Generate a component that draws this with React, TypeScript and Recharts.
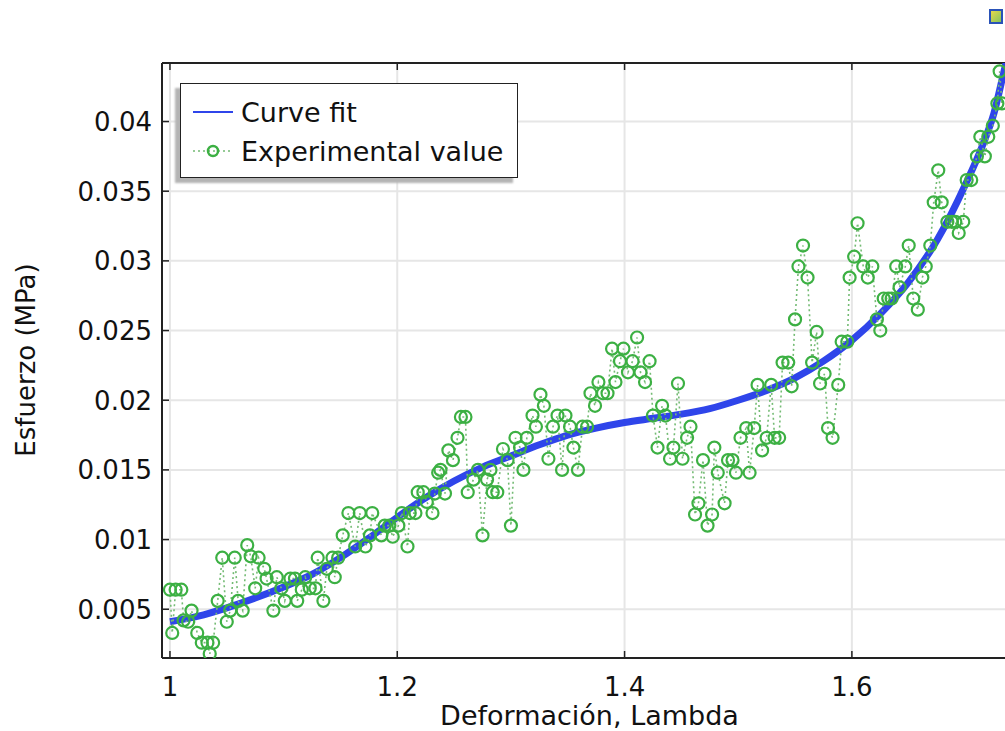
import React from "react";
import { ComposedChart, Line, XAxis, YAxis, CartesianGrid, ReferenceLine } from "recharts";

const FONT = "'DejaVu Sans', Verdana, sans-serif";
const FIT_COLOR = "#2f45ea";
const EXP_COLOR = "#3cb043";
const EXP_LINE = "#74bb74";
const FRAME = "#222";

const xTicks = [1, 1.2, 1.4, 1.6];
const yTicks = [0.005, 0.01, 0.015, 0.02, 0.025, 0.03, 0.035, 0.04];
const X_DOMAIN: [number, number] = [0.993, 1.74];
const Y_DOMAIN: [number, number] = [0.0015, 0.0442];

// fitted hyperelastic curve
const fitLambda = [
  1.0, 1.025, 1.05, 1.075, 1.1, 1.125, 1.15, 1.175, 1.2, 1.225, 1.25, 1.275, 1.3, 1.325, 1.35, 1.375,
  1.4, 1.425, 1.45, 1.475, 1.5, 1.525, 1.55, 1.575, 1.6, 1.625, 1.65, 1.675, 1.7, 1.715, 1.725, 1.735, 1.74,
];
const fitStress = [
  0.0041, 0.0045, 0.0051, 0.0058, 0.0066, 0.0075, 0.0087, 0.0101, 0.0116, 0.013, 0.0142, 0.0152, 0.016,
  0.0168, 0.0175, 0.018, 0.0184, 0.0187, 0.019, 0.0194, 0.02, 0.0207, 0.0216, 0.0228, 0.0243, 0.0262,
  0.0285, 0.0315, 0.0355, 0.0383, 0.0406, 0.044, 0.0456,
];

// measured points
const expLambda = [
  1.0, 1.002, 1.005, 1.01, 1.012, 1.016, 1.019, 1.024, 1.028, 1.033, 1.035, 1.038, 1.042, 1.046, 1.05,
  1.053, 1.057, 1.06, 1.064, 1.068, 1.071, 1.075, 1.078, 1.083, 1.085, 1.091, 1.094, 1.098, 1.101, 1.106,
  1.11, 1.112, 1.116, 1.119, 1.123, 1.128, 1.13, 1.135, 1.138, 1.143, 1.145, 1.148, 1.152, 1.157, 1.163,
  1.167, 1.172, 1.176, 1.178, 1.186, 1.189, 1.193, 1.196, 1.201, 1.204, 1.209, 1.211, 1.216, 1.218, 1.223,
  1.226, 1.231, 1.233, 1.236, 1.238, 1.242, 1.245, 1.249, 1.253, 1.256, 1.26, 1.262, 1.267, 1.271, 1.275,
  1.279, 1.282, 1.284, 1.288, 1.293, 1.297, 1.3, 1.304, 1.308, 1.311, 1.314, 1.319, 1.322, 1.326, 1.329,
  1.333, 1.337, 1.341, 1.345, 1.348, 1.352, 1.355, 1.359, 1.363, 1.367, 1.37, 1.374, 1.377, 1.381, 1.385,
  1.389, 1.392, 1.396, 1.399, 1.403, 1.407, 1.411, 1.414, 1.418, 1.422, 1.425, 1.429, 1.433, 1.436, 1.44,
  1.443, 1.447, 1.451, 1.455, 1.458, 1.462, 1.465, 1.469, 1.473, 1.477, 1.479, 1.482, 1.488, 1.491, 1.495,
  1.498, 1.502, 1.507, 1.51, 1.514, 1.517, 1.521, 1.525, 1.529, 1.532, 1.536, 1.539, 1.544, 1.547, 1.55,
  1.553, 1.557, 1.561, 1.565, 1.569, 1.572, 1.576, 1.579, 1.583, 1.588, 1.591, 1.596, 1.598, 1.602, 1.605,
  1.61, 1.614, 1.618, 1.622, 1.625, 1.628, 1.632, 1.635, 1.639, 1.642, 1.647, 1.65, 1.654, 1.658, 1.662,
  1.665, 1.669, 1.672, 1.676, 1.679, 1.684, 1.688, 1.691, 1.694, 1.698, 1.701, 1.705, 1.71, 1.713, 1.717,
  1.72, 1.724, 1.728, 1.73, 1.732,
];
const expStress = [
  0.0064, 0.0033, 0.0064, 0.0064, 0.0042, 0.0041, 0.0049, 0.0033, 0.0026, 0.0026, 0.0018, 0.0026, 0.0056,
  0.0087, 0.0041, 0.0049, 0.0087, 0.0056, 0.0049, 0.0096, 0.0088, 0.0065, 0.0087, 0.0079, 0.0072, 0.0049,
  0.0073, 0.0065, 0.0056, 0.0072, 0.0072, 0.0056, 0.0064, 0.0073, 0.0065, 0.0065, 0.0087, 0.0056, 0.0079,
  0.0087, 0.0073, 0.0087, 0.0103, 0.0119, 0.0095, 0.0119, 0.0095, 0.0103, 0.0119, 0.0103, 0.011, 0.011,
  0.0102, 0.011, 0.0119, 0.0095, 0.0119, 0.0119, 0.0134, 0.0134, 0.0127, 0.0119, 0.0133, 0.0148, 0.015,
  0.0133, 0.0164, 0.0157, 0.0173, 0.0188, 0.0188, 0.0134, 0.0143, 0.015, 0.0103, 0.0143, 0.015, 0.0134,
  0.0134, 0.0165, 0.0157, 0.011, 0.0173, 0.0166, 0.015, 0.0173, 0.0189, 0.0181, 0.0204, 0.0196, 0.0158,
  0.0181, 0.0189, 0.015, 0.0189, 0.0181, 0.0166, 0.015, 0.0181, 0.0181, 0.0205, 0.0196, 0.0213, 0.0205,
  0.0205, 0.0237, 0.0213, 0.0228, 0.0237, 0.022, 0.0228, 0.0245, 0.022, 0.0213, 0.0228, 0.0189, 0.0166,
  0.0196, 0.0189, 0.0158, 0.0166, 0.0212, 0.0158, 0.0173, 0.0181, 0.0118, 0.0126, 0.0157, 0.011, 0.0118,
  0.0166, 0.0148, 0.0126, 0.0157, 0.0157, 0.0148, 0.0173, 0.018, 0.0148, 0.018, 0.0211, 0.0164, 0.0173,
  0.0211, 0.0173, 0.0173, 0.0227, 0.0227, 0.021, 0.0258, 0.0296, 0.0311, 0.0288, 0.0227, 0.0249, 0.0212,
  0.0219, 0.018, 0.0173, 0.0211, 0.0242, 0.0242, 0.0288, 0.0303, 0.0327, 0.0296, 0.0288, 0.0296, 0.0258,
  0.025, 0.0273, 0.0273, 0.0273, 0.0296, 0.0281, 0.0296, 0.0311, 0.0273, 0.0265, 0.0288, 0.0296, 0.0311,
  0.0342, 0.0365, 0.0342, 0.0328, 0.0328, 0.0328, 0.032, 0.0328, 0.0358, 0.0358, 0.0375, 0.0389, 0.0375,
  0.0389, 0.0397, 0.0413, 0.0436, 0.0413,
];

const fitData = fitLambda.map((lambda, i) => ({ lambda, stress: fitStress[i] }));
const expData = expLambda.map((lambda, i) => ({ lambda, stress: expStress[i] }));

const PLOT_TOP = 63;

const XTick = (props: any) => {
  const { x, y, payload } = props;
  return (
    <g>
      <line x1={x} y1={y} x2={x} y2={y - 7} stroke={FRAME} strokeWidth={1.5} />
      <line x1={x} y1={PLOT_TOP} x2={x} y2={PLOT_TOP + 7} stroke={FRAME} strokeWidth={1.5} />
      <text x={x} y={y + 38} textAnchor="middle" fontSize={26} fontFamily={FONT} fill="#111">
        {payload.value}
      </text>
    </g>
  );
};

const YTick = (props: any) => {
  const { x, y, payload } = props;
  return (
    <g>
      <line x1={x} y1={y} x2={x + 7} y2={y} stroke={FRAME} strokeWidth={1.5} />
      <text x={x - 10} y={y} dy="0.36em" textAnchor="end" fontSize={26} fontFamily={FONT} fill="#111">
        {payload.value}
      </text>
    </g>
  );
};

const XTitle = (props: any) => {
  const vb = props.viewBox || { x: 162, width: 849 };
  return (
    <text x={vb.x + vb.width / 2 + 3} y={725} textAnchor="middle" fontSize={27} fontFamily={FONT} fill="#111">
      Deformación, Lambda
    </text>
  );
};

const YTitle = () => (
  <text transform="rotate(-90)" x={-360} y={35} textAnchor="middle" fontSize={26} fontFamily={FONT} fill="#111">
    Esfuerzo (MPa)
  </text>
);

const LegendBox = () => (
  <div
    style={{
      position: "absolute",
      left: 180,
      top: 83,
      width: 336,
      height: 93,
      border: `1.5px solid ${FRAME}`,
      background: "#fff",
      boxShadow: "-5px 5px 2px #b4b4b4",
    }}
  >
    <svg width={336} height={93}>
      <line x1={12} y1={28} x2={52} y2={28} stroke={FIT_COLOR} strokeWidth={2} />
      <text x={60} y={28} dy="0.36em" fontSize={27} fontFamily={FONT} fill="#111">
        Curve fit
      </text>
      <line x1={12} y1={67} x2={52} y2={67} stroke={EXP_LINE} strokeWidth={1.5} strokeDasharray="2 3" />
      <circle cx={32} cy={67} r={5} fill="none" stroke={EXP_COLOR} strokeWidth={2.5} />
      <text x={60} y={67} dy="0.36em" fontSize={27} fontFamily={FONT} fill="#111">
        Experimental value
      </text>
    </svg>
  </div>
);

const App: React.FC = () => {
  return (
    <div style={{ position: "absolute", left: 0, top: 0, width: 1005, height: 731, overflow: "hidden", background: "#fff" }}>
      <ComposedChart width={1020} height={731} margin={{ top: PLOT_TOP, right: 9, bottom: 0, left: 0 }}>
        <CartesianGrid stroke="#e6e6e6" strokeWidth={2} />
        <XAxis
          dataKey="lambda"
          type="number"
          domain={X_DOMAIN}
          ticks={xTicks}
          allowDataOverflow
          height={73}
          tickSize={0}
          tickMargin={0}
          tickLine={false}
          axisLine={{ stroke: FRAME, strokeWidth: 2 }}
          tick={(p: any) => <XTick {...p} />}
          label={(p: any) => <XTitle {...p} />}
        />
        <YAxis
          dataKey="stress"
          type="number"
          domain={Y_DOMAIN}
          ticks={yTicks}
          allowDataOverflow
          width={162}
          tickSize={0}
          tickMargin={0}
          tickLine={false}
          axisLine={{ stroke: FRAME, strokeWidth: 2 }}
          tick={(p: any) => <YTick {...p} />}
          label={() => <YTitle />}
        />
        <ReferenceLine y={Y_DOMAIN[1]} stroke={FRAME} strokeWidth={2} />
        <Line
          data={fitData}
          dataKey="stress"
          type="monotone"
          stroke={FIT_COLOR}
          strokeWidth={7}
          dot={false}
          activeDot={false}
          isAnimationActive={false}
        />
        <Line
          data={expData}
          dataKey="stress"
          type="linear"
          stroke={EXP_LINE}
          strokeWidth={1.6}
          strokeDasharray="2 3"
          dot={{ r: 6, stroke: EXP_COLOR, strokeWidth: 2.2, fill: "none", strokeDasharray: "" }}
          activeDot={false}
          isAnimationActive={false}
        />
      </ComposedChart>
      <LegendBox />
      <div
        style={{
          position: "absolute",
          left: 989,
          top: 9,
          width: 10,
          height: 11,
          border: "2px solid #2a52b8",
          background: "linear-gradient(135deg, #e8d84a, #86c45c)",
        }}
      />
    </div>
  );
};

export default App;
